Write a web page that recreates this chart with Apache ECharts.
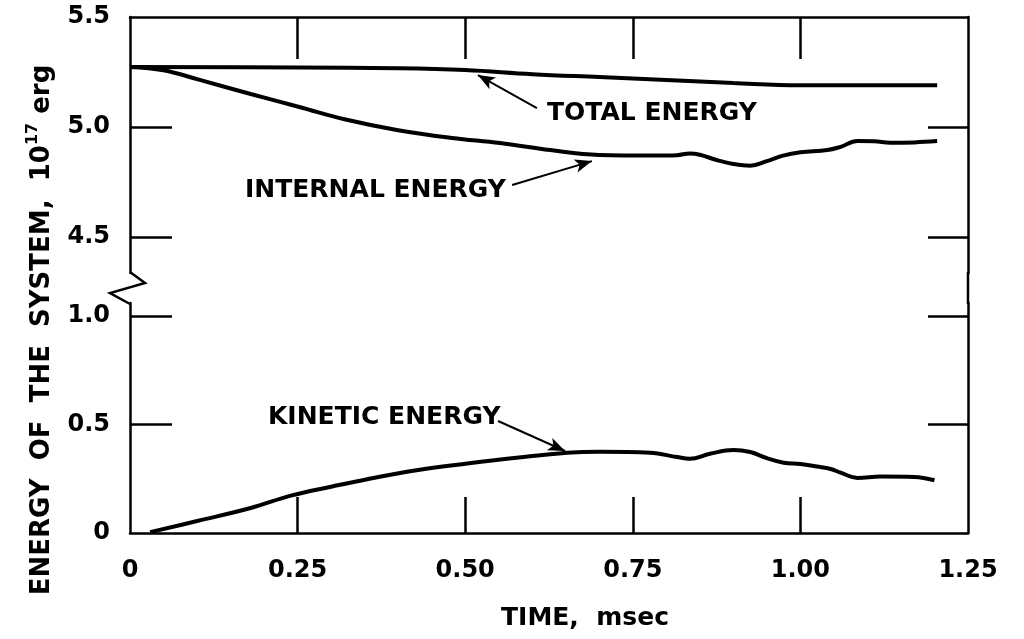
<!DOCTYPE html>
<html><head><meta charset="utf-8">
<script src="https://cdn.jsdelivr.net/npm/echarts@6/dist/echarts.min.js"></script>
<style>html,body{margin:0;padding:0;background:#fff}#c{width:1024px;height:639px}</style>
</head><body><div id="c"></div>
<script>
// ---- data (time in msec, energy in 10^17 erg) ----
const totalTime      = [0, 0.25, 0.4, 0.5, 0.6, 0.7, 0.8, 0.9, 1.0, 1.1, 1.204];
const totalValues    = [5.273, 5.27, 5.267, 5.259, 5.24, 5.227, 5.214, 5.2, 5.19, 5.19, 5.19];

const internalTime   = [0, 0.05, 0.104, 0.18, 0.254, 0.32, 0.4, 0.48, 0.552, 0.627, 0.70, 0.78, 0.816, 0.835, 0.85, 0.875, 0.90, 0.925, 0.95, 0.974, 1.0, 1.04, 1.06, 1.085, 1.11, 1.134, 1.17, 1.204];
const internalValues = [5.273, 5.258, 5.214, 5.15, 5.09, 5.035, 4.985, 4.95, 4.927, 4.895, 4.873, 4.87, 4.872, 4.88, 4.874, 4.85, 4.832, 4.824, 4.845, 4.87, 4.885, 4.895, 4.91, 4.936, 4.935, 4.928, 4.93, 4.936];

const kineticTime    = [0.03, 0.1, 0.18, 0.24, 0.3, 0.354, 0.43, 0.503, 0.58, 0.652, 0.70, 0.776, 0.816, 0.835, 0.865, 0.9, 0.925, 0.95, 0.975, 1.0, 1.025, 1.045, 1.06, 1.085, 1.12, 1.17, 1.2];
const kineticValues  = [0.004, 0.055, 0.115, 0.172, 0.213, 0.248, 0.29, 0.32, 0.348, 0.37, 0.375, 0.37, 0.35, 0.342, 0.365, 0.382, 0.373, 0.345, 0.324, 0.318, 0.306, 0.295, 0.278, 0.254, 0.26, 0.258, 0.243];

const xTicks          = [0, 0.25, 0.5, 0.75, 1.0, 1.25];
const xTickLabels     = ['0', '0.25', '0.50', '0.75', '1.00', '1.25'];
const yTopTicks       = [4.5, 5.0, 5.5];
const yTopTickLabels  = ['4.5', '5.0', '5.5'];
const yBotTicks       = [0, 0.5, 1.0];
const yBotTickLabels  = ['0', '0.5', '1.0'];

// annotation arrows (tail -> head), in data units
const totalArrow    = [[0.607, 5.086], [0.519, 5.236]];
const internalArrow = [[0.570, 4.736], [0.689, 4.845]];
const kineticArrow  = [[0.549, 0.516], [0.649, 0.378]];

const pairs = (xs, ys) => xs.map((x, i) => [x, ys[i]]);
const FONT = 'DejaVu Sans';
const BLACK = '#000';

const chart = echarts.init(document.getElementById('c'), null, {renderer: 'canvas'});

const lineAxis = {lineStyle: {color: BLACK, width: 2.5}};
const tickStyle = {color: BLACK, width: 2.5};

function arrow(a) {
  return {
    silent: true, symbol: ['none', 'arrow'], symbolSize: [10, 17],
    lineStyle: {color: BLACK, width: 2, type: 'solid'},
    itemStyle: {color: BLACK},
    label: {show: false}, emphasis: {disabled: true},
    data: [[{coord: a[0]}, {coord: a[1]}]]
  };
}

const option = {
  backgroundColor: '#fff',
  animation: false,
  grid: [
    {left: 130, right: 56, top: 17, height: 256},
    {left: 130, right: 56, top: 303, height: 230}
  ],
  xAxis: [
    {type: 'value', gridIndex: 0, position: 'top', min: 0, max: 1.25,
     axisLine: lineAxis, splitLine: {show: false}, axisLabel: {show: false},
     axisTick: {inside: true, length: 42, lineStyle: tickStyle, customValues: xTicks.slice(1, 5)}},
    {type: 'value', gridIndex: 1, position: 'bottom', min: 0, max: 1.25,
     axisLine: lineAxis, splitLine: {show: false},
     axisTick: {inside: true, length: 36, lineStyle: tickStyle, customValues: xTicks.slice(1, 5)},
     axisLabel: {customValues: xTicks, margin: 26, color: BLACK, fontFamily: FONT, fontWeight: 'bold', fontSize: 24,
       formatter: v => xTickLabels[xTicks.indexOf(v)]}}
  ],
  yAxis: [
    {type: 'value', gridIndex: 0, position: 'left', min: 5.5 - 256 / 220, max: 5.5,
     axisLine: lineAxis, splitLine: {show: false},
     axisTick: {inside: true, length: 42, lineStyle: tickStyle, customValues: [4.5, 5.0]},
     axisLabel: {customValues: yTopTicks, margin: 20, color: BLACK, fontFamily: FONT, fontWeight: 'bold', fontSize: 24,
       formatter: v => yTopTickLabels[yTopTicks.indexOf(v)]}},
    {type: 'value', gridIndex: 0, position: 'right', min: 5.5 - 256 / 220, max: 5.5,
     axisLine: lineAxis, splitLine: {show: false}, axisLabel: {show: false},
     axisTick: {inside: true, length: 40, lineStyle: tickStyle, customValues: [4.5, 5.0]}},
    {type: 'value', gridIndex: 1, position: 'left', min: 0, max: 230 / 217,
     axisLine: lineAxis, splitLine: {show: false},
     axisTick: {inside: true, length: 42, lineStyle: tickStyle, customValues: [0.5, 1.0]},
     axisLabel: {customValues: yBotTicks, margin: 20, color: BLACK, fontFamily: FONT, fontWeight: 'bold', fontSize: 24,
       formatter: v => yBotTickLabels[yBotTicks.indexOf(v)]}},
    {type: 'value', gridIndex: 1, position: 'right', min: 0, max: 230 / 217,
     axisLine: lineAxis, splitLine: {show: false}, axisLabel: {show: false},
     axisTick: {inside: true, length: 40, lineStyle: tickStyle, customValues: [0.5, 1.0]}}
  ],
  series: [
    {name: 'Total energy', type: 'line', xAxisIndex: 0, yAxisIndex: 0, data: pairs(totalTime, totalValues),
     smooth: 0.4, showSymbol: false, lineStyle: {color: BLACK, width: 4}, markLine: arrow(totalArrow)},
    {name: 'Internal energy', type: 'line', xAxisIndex: 0, yAxisIndex: 0, data: pairs(internalTime, internalValues),
     smooth: 0.4, showSymbol: false, lineStyle: {color: BLACK, width: 4}, markLine: arrow(internalArrow)},
    {name: 'Kinetic energy', type: 'line', xAxisIndex: 1, yAxisIndex: 2, data: pairs(kineticTime, kineticValues),
     smooth: 0.4, showSymbol: false, lineStyle: {color: BLACK, width: 4}, markLine: arrow(kineticArrow)}
  ],
  graphic: [
    // right border continues through the axis break
    {type: 'line', shape: {x1: 968, y1: 272, x2: 968, y2: 304}, style: {stroke: BLACK, lineWidth: 2.5}},
    // zigzag break mark on the left axis
    {type: 'polyline', shape: {points: [[130, 272], [145, 283], [110, 293], [130, 304]]},
     style: {stroke: BLACK, lineWidth: 2.5, fill: null}},
    {type: 'text', x: 547, y: 113, style: {text: 'TOTAL ENERGY', font: 'bold 25px "DejaVu Sans"', fill: BLACK, align: 'left', verticalAlign: 'middle'}},
    {type: 'text', x: 245, y: 190, style: {text: 'INTERNAL ENERGY', font: 'bold 25px "DejaVu Sans"', fill: BLACK, align: 'left', verticalAlign: 'middle'}},
    {type: 'text', x: 268, y: 417, style: {text: 'KINETIC ENERGY', font: 'bold 25px "DejaVu Sans"', fill: BLACK, align: 'left', verticalAlign: 'middle'}},
    {type: 'text', x: 585, y: 618, style: {text: 'TIME,  msec', font: 'bold 25px "DejaVu Sans"', fill: BLACK, align: 'center', verticalAlign: 'middle'}},
    {type: 'text', x: 40, y: 330, rotation: Math.PI / 2,
     style: {text: '{a|ENERGY  OF  THE  SYSTEM,  10}{s|17}{a| erg}', align: 'center', verticalAlign: 'middle', fill: BLACK,
       rich: {
         a: {fontFamily: FONT, fontWeight: 'bold', fontSize: 26, lineHeight: 30, fill: BLACK, verticalAlign: 'bottom'},
         s: {fontFamily: FONT, fontWeight: 'bold', fontSize: 16, lineHeight: 30, fill: BLACK, verticalAlign: 'top'}
       }}}
  ]
};
chart.setOption(option);
</script>
</body></html>
